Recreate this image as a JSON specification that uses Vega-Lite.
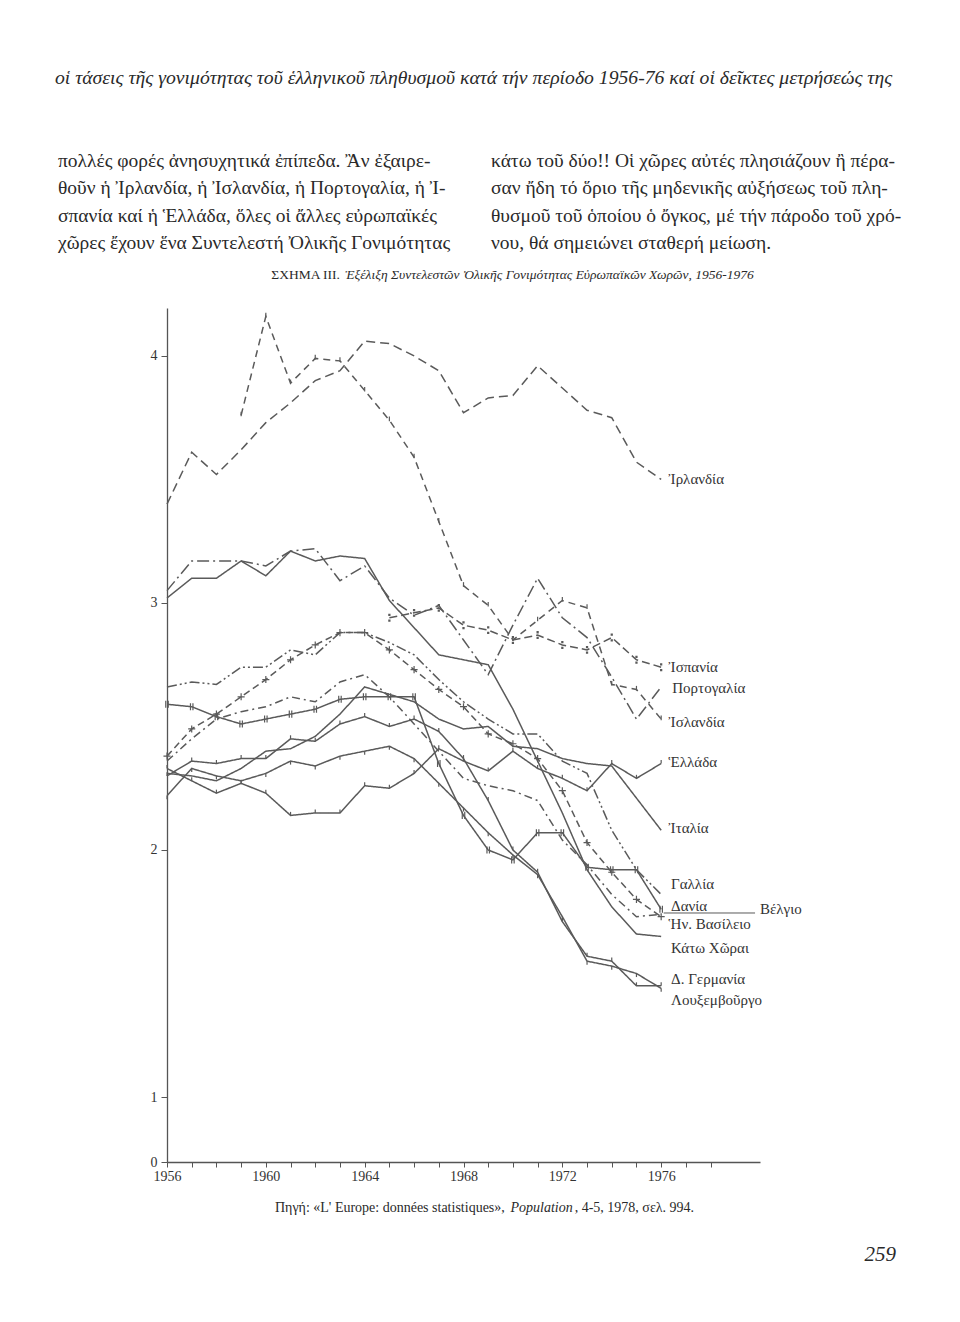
{
  "$schema": "https://vega.github.io/schema/vega-lite/v6.json",
  "width": 593,
  "height": 854,
  "autosize": {"type": "none"},
  "padding": {"left": 167, "top": 308, "right": 200, "bottom": 160},
  "background": "white",
  "config": {"view": {"stroke": null}, "font": "Liberation Serif, DejaVu Serif, serif"},
  "resolve": {"axis": {"x": "independent", "y": "independent"}},
  "datasets": {
    "tfr": [
      {"country":"Ireland","year":1956,"tfr":3.40},{"country":"Ireland","year":1957,"tfr":3.61},{"country":"Ireland","year":1958,"tfr":3.52},{"country":"Ireland","year":1959,"tfr":3.62},{"country":"Ireland","year":1960,"tfr":3.73},{"country":"Ireland","year":1961,"tfr":3.81},{"country":"Ireland","year":1962,"tfr":3.90},{"country":"Ireland","year":1963,"tfr":3.94},{"country":"Ireland","year":1964,"tfr":4.06},{"country":"Ireland","year":1965,"tfr":4.05},{"country":"Ireland","year":1966,"tfr":4.00},{"country":"Ireland","year":1967,"tfr":3.94},{"country":"Ireland","year":1968,"tfr":3.77},{"country":"Ireland","year":1969,"tfr":3.83},{"country":"Ireland","year":1970,"tfr":3.84},{"country":"Ireland","year":1971,"tfr":3.96},{"country":"Ireland","year":1972,"tfr":3.87},{"country":"Ireland","year":1973,"tfr":3.78},{"country":"Ireland","year":1974,"tfr":3.75},{"country":"Ireland","year":1975,"tfr":3.57},{"country":"Ireland","year":1976,"tfr":3.50},
      {"country":"Iceland","year":1959,"tfr":3.76},{"country":"Iceland","year":1960,"tfr":4.16},{"country":"Iceland","year":1961,"tfr":3.89},{"country":"Iceland","year":1962,"tfr":3.99},{"country":"Iceland","year":1963,"tfr":3.98},{"country":"Iceland","year":1964,"tfr":3.86},{"country":"Iceland","year":1965,"tfr":3.74},{"country":"Iceland","year":1966,"tfr":3.59},{"country":"Iceland","year":1967,"tfr":3.33},{"country":"Iceland","year":1968,"tfr":3.07},{"country":"Iceland","year":1969,"tfr":2.99},{"country":"Iceland","year":1970,"tfr":2.85},{"country":"Iceland","year":1971,"tfr":2.93},{"country":"Iceland","year":1972,"tfr":3.01},{"country":"Iceland","year":1973,"tfr":2.98},{"country":"Iceland","year":1974,"tfr":2.67},{"country":"Iceland","year":1975,"tfr":2.65},{"country":"Iceland","year":1976,"tfr":2.53},
      {"country":"Spain","year":1965,"tfr":2.94},{"country":"Spain","year":1966,"tfr":2.96},{"country":"Spain","year":1967,"tfr":2.98},{"country":"Spain","year":1968,"tfr":2.91},{"country":"Spain","year":1969,"tfr":2.89},{"country":"Spain","year":1970,"tfr":2.85},{"country":"Spain","year":1971,"tfr":2.87},{"country":"Spain","year":1972,"tfr":2.83},{"country":"Spain","year":1973,"tfr":2.81},{"country":"Spain","year":1974,"tfr":2.86},{"country":"Spain","year":1975,"tfr":2.77},{"country":"Spain","year":1976,"tfr":2.74},
      {"country":"Portugal","year":1956,"tfr":3.05},{"country":"Portugal","year":1957,"tfr":3.17},{"country":"Portugal","year":1958,"tfr":3.17},{"country":"Portugal","year":1959,"tfr":3.17},{"country":"Portugal","year":1960,"tfr":3.15},{"country":"Portugal","year":1961,"tfr":3.21},{"country":"Portugal","year":1962,"tfr":3.22},{"country":"Portugal","year":1963,"tfr":3.09},{"country":"Portugal","year":1964,"tfr":3.15},{"country":"Portugal","year":1965,"tfr":3.02},{"country":"Portugal","year":1966,"tfr":2.95},{"country":"Portugal","year":1967,"tfr":2.99},{"country":"Portugal","year":1968,"tfr":2.85},{"country":"Portugal","year":1969,"tfr":2.71},{"country":"Portugal","year":1970,"tfr":2.91},{"country":"Portugal","year":1971,"tfr":3.10},{"country":"Portugal","year":1972,"tfr":2.94},{"country":"Portugal","year":1973,"tfr":2.86},{"country":"Portugal","year":1974,"tfr":2.70},{"country":"Portugal","year":1975,"tfr":2.53},{"country":"Portugal","year":1976,"tfr":2.66},
      {"country":"Netherlands","year":1956,"tfr":3.02},{"country":"Netherlands","year":1957,"tfr":3.10},{"country":"Netherlands","year":1958,"tfr":3.10},{"country":"Netherlands","year":1959,"tfr":3.17},{"country":"Netherlands","year":1960,"tfr":3.11},{"country":"Netherlands","year":1961,"tfr":3.21},{"country":"Netherlands","year":1962,"tfr":3.17},{"country":"Netherlands","year":1963,"tfr":3.19},{"country":"Netherlands","year":1964,"tfr":3.18},{"country":"Netherlands","year":1965,"tfr":3.01},{"country":"Netherlands","year":1966,"tfr":2.90},{"country":"Netherlands","year":1967,"tfr":2.79},{"country":"Netherlands","year":1968,"tfr":2.77},{"country":"Netherlands","year":1969,"tfr":2.75},{"country":"Netherlands","year":1970,"tfr":2.57},{"country":"Netherlands","year":1971,"tfr":2.36},{"country":"Netherlands","year":1972,"tfr":2.15},{"country":"Netherlands","year":1973,"tfr":1.92},{"country":"Netherlands","year":1974,"tfr":1.77},{"country":"Netherlands","year":1975,"tfr":1.66},{"country":"Netherlands","year":1976,"tfr":1.65},
      {"country":"France","year":1956,"tfr":2.66},{"country":"France","year":1957,"tfr":2.68},{"country":"France","year":1958,"tfr":2.67},{"country":"France","year":1959,"tfr":2.74},{"country":"France","year":1960,"tfr":2.74},{"country":"France","year":1961,"tfr":2.81},{"country":"France","year":1962,"tfr":2.79},{"country":"France","year":1963,"tfr":2.88},{"country":"France","year":1964,"tfr":2.88},{"country":"France","year":1965,"tfr":2.84},{"country":"France","year":1966,"tfr":2.79},{"country":"France","year":1967,"tfr":2.69},{"country":"France","year":1968,"tfr":2.60},{"country":"France","year":1969,"tfr":2.53},{"country":"France","year":1970,"tfr":2.47},{"country":"France","year":1971,"tfr":2.47},{"country":"France","year":1972,"tfr":2.36},{"country":"France","year":1973,"tfr":2.31},{"country":"France","year":1974,"tfr":2.08},{"country":"France","year":1975,"tfr":1.92},{"country":"France","year":1976,"tfr":1.82},
      {"country":"UK","year":1956,"tfr":2.38},{"country":"UK","year":1957,"tfr":2.49},{"country":"UK","year":1958,"tfr":2.55},{"country":"UK","year":1959,"tfr":2.62},{"country":"UK","year":1960,"tfr":2.69},{"country":"UK","year":1961,"tfr":2.77},{"country":"UK","year":1962,"tfr":2.83},{"country":"UK","year":1963,"tfr":2.88},{"country":"UK","year":1964,"tfr":2.88},{"country":"UK","year":1965,"tfr":2.81},{"country":"UK","year":1966,"tfr":2.73},{"country":"UK","year":1967,"tfr":2.65},{"country":"UK","year":1968,"tfr":2.58},{"country":"UK","year":1969,"tfr":2.47},{"country":"UK","year":1970,"tfr":2.43},{"country":"UK","year":1971,"tfr":2.37},{"country":"UK","year":1972,"tfr":2.24},{"country":"UK","year":1973,"tfr":2.03},{"country":"UK","year":1974,"tfr":1.91},{"country":"UK","year":1975,"tfr":1.80},{"country":"UK","year":1976,"tfr":1.73},
      {"country":"Belgium","year":1956,"tfr":2.36},{"country":"Belgium","year":1957,"tfr":2.45},{"country":"Belgium","year":1958,"tfr":2.53},{"country":"Belgium","year":1959,"tfr":2.56},{"country":"Belgium","year":1960,"tfr":2.58},{"country":"Belgium","year":1961,"tfr":2.62},{"country":"Belgium","year":1962,"tfr":2.60},{"country":"Belgium","year":1963,"tfr":2.68},{"country":"Belgium","year":1964,"tfr":2.71},{"country":"Belgium","year":1965,"tfr":2.62},{"country":"Belgium","year":1966,"tfr":2.51},{"country":"Belgium","year":1967,"tfr":2.40},{"country":"Belgium","year":1968,"tfr":2.29},{"country":"Belgium","year":1969,"tfr":2.26},{"country":"Belgium","year":1970,"tfr":2.24},{"country":"Belgium","year":1971,"tfr":2.20},{"country":"Belgium","year":1972,"tfr":2.04},{"country":"Belgium","year":1973,"tfr":1.94},{"country":"Belgium","year":1974,"tfr":1.82},{"country":"Belgium","year":1975,"tfr":1.73},{"country":"Belgium","year":1976,"tfr":1.74},
      {"country":"Denmark","year":1956,"tfr":2.59},{"country":"Denmark","year":1957,"tfr":2.58},{"country":"Denmark","year":1958,"tfr":2.54},{"country":"Denmark","year":1959,"tfr":2.51},{"country":"Denmark","year":1960,"tfr":2.53},{"country":"Denmark","year":1961,"tfr":2.55},{"country":"Denmark","year":1962,"tfr":2.57},{"country":"Denmark","year":1963,"tfr":2.61},{"country":"Denmark","year":1964,"tfr":2.62},{"country":"Denmark","year":1965,"tfr":2.62},{"country":"Denmark","year":1966,"tfr":2.62},{"country":"Denmark","year":1967,"tfr":2.35},{"country":"Denmark","year":1968,"tfr":2.14},{"country":"Denmark","year":1969,"tfr":2.00},{"country":"Denmark","year":1970,"tfr":1.96},{"country":"Denmark","year":1971,"tfr":2.07},{"country":"Denmark","year":1972,"tfr":2.07},{"country":"Denmark","year":1973,"tfr":1.93},{"country":"Denmark","year":1974,"tfr":1.92},{"country":"Denmark","year":1975,"tfr":1.92},{"country":"Denmark","year":1976,"tfr":1.76},
      {"country":"Greece","year":1956,"tfr":2.33},{"country":"Greece","year":1957,"tfr":2.28},{"country":"Greece","year":1958,"tfr":2.23},{"country":"Greece","year":1959,"tfr":2.27},{"country":"Greece","year":1960,"tfr":2.23},{"country":"Greece","year":1961,"tfr":2.14},{"country":"Greece","year":1962,"tfr":2.15},{"country":"Greece","year":1963,"tfr":2.15},{"country":"Greece","year":1964,"tfr":2.26},{"country":"Greece","year":1965,"tfr":2.25},{"country":"Greece","year":1966,"tfr":2.31},{"country":"Greece","year":1967,"tfr":2.41},{"country":"Greece","year":1968,"tfr":2.36},{"country":"Greece","year":1969,"tfr":2.32},{"country":"Greece","year":1970,"tfr":2.40},{"country":"Greece","year":1971,"tfr":2.33},{"country":"Greece","year":1972,"tfr":2.29},{"country":"Greece","year":1973,"tfr":2.24},{"country":"Greece","year":1974,"tfr":2.35},{"country":"Greece","year":1975,"tfr":2.29},{"country":"Greece","year":1976,"tfr":2.35},
      {"country":"Italy","year":1956,"tfr":2.31},{"country":"Italy","year":1957,"tfr":2.30},{"country":"Italy","year":1958,"tfr":2.28},{"country":"Italy","year":1959,"tfr":2.33},{"country":"Italy","year":1960,"tfr":2.40},{"country":"Italy","year":1961,"tfr":2.41},{"country":"Italy","year":1962,"tfr":2.46},{"country":"Italy","year":1963,"tfr":2.55},{"country":"Italy","year":1964,"tfr":2.66},{"country":"Italy","year":1965,"tfr":2.63},{"country":"Italy","year":1966,"tfr":2.60},{"country":"Italy","year":1967,"tfr":2.53},{"country":"Italy","year":1968,"tfr":2.49},{"country":"Italy","year":1969,"tfr":2.50},{"country":"Italy","year":1970,"tfr":2.42},{"country":"Italy","year":1971,"tfr":2.41},{"country":"Italy","year":1972,"tfr":2.37},{"country":"Italy","year":1973,"tfr":2.35},{"country":"Italy","year":1974,"tfr":2.34},{"country":"Italy","year":1975,"tfr":2.21},{"country":"Italy","year":1976,"tfr":2.08},
      {"country":"WGermany","year":1956,"tfr":2.30},{"country":"WGermany","year":1957,"tfr":2.36},{"country":"WGermany","year":1958,"tfr":2.35},{"country":"WGermany","year":1959,"tfr":2.37},{"country":"WGermany","year":1960,"tfr":2.37},{"country":"WGermany","year":1961,"tfr":2.45},{"country":"WGermany","year":1962,"tfr":2.44},{"country":"WGermany","year":1963,"tfr":2.51},{"country":"WGermany","year":1964,"tfr":2.54},{"country":"WGermany","year":1965,"tfr":2.50},{"country":"WGermany","year":1966,"tfr":2.53},{"country":"WGermany","year":1967,"tfr":2.48},{"country":"WGermany","year":1968,"tfr":2.37},{"country":"WGermany","year":1969,"tfr":2.20},{"country":"WGermany","year":1970,"tfr":2.00},{"country":"WGermany","year":1971,"tfr":1.91},{"country":"WGermany","year":1972,"tfr":1.71},{"country":"WGermany","year":1973,"tfr":1.57},{"country":"WGermany","year":1974,"tfr":1.55},{"country":"WGermany","year":1975,"tfr":1.45},{"country":"WGermany","year":1976,"tfr":1.45},
      {"country":"Luxembourg","year":1956,"tfr":2.22},{"country":"Luxembourg","year":1957,"tfr":2.33},{"country":"Luxembourg","year":1958,"tfr":2.30},{"country":"Luxembourg","year":1959,"tfr":2.28},{"country":"Luxembourg","year":1960,"tfr":2.31},{"country":"Luxembourg","year":1961,"tfr":2.36},{"country":"Luxembourg","year":1962,"tfr":2.34},{"country":"Luxembourg","year":1963,"tfr":2.38},{"country":"Luxembourg","year":1964,"tfr":2.40},{"country":"Luxembourg","year":1965,"tfr":2.42},{"country":"Luxembourg","year":1966,"tfr":2.37},{"country":"Luxembourg","year":1967,"tfr":2.27},{"country":"Luxembourg","year":1968,"tfr":2.17},{"country":"Luxembourg","year":1969,"tfr":2.07},{"country":"Luxembourg","year":1970,"tfr":1.98},{"country":"Luxembourg","year":1971,"tfr":1.90},{"country":"Luxembourg","year":1972,"tfr":1.73},{"country":"Luxembourg","year":1973,"tfr":1.55},{"country":"Luxembourg","year":1974,"tfr":1.53},{"country":"Luxembourg","year":1975,"tfr":1.50},{"country":"Luxembourg","year":1976,"tfr":1.44}
    ],
    "labels": [
      {"country":"Ireland","label":"Ἰρλανδία","year":1976.3,"tfr":3.50},
      {"country":"Spain","label":"Ἰσπανία","year":1976.3,"tfr":2.742},
      {"country":"Portugal","label":"Πορτογαλία","year":1976.45,"tfr":2.655},
      {"country":"Iceland","label":"Ἰσλανδία","year":1976.3,"tfr":2.519},
      {"country":"Greece","label":"Ἑλλάδα","year":1976.3,"tfr":2.357},
      {"country":"Italy","label":"Ἰταλία","year":1976.3,"tfr":2.088},
      {"country":"France","label":"Γαλλία","year":1976.4,"tfr":1.862},
      {"country":"Denmark","label":"Δανία","year":1976.4,"tfr":1.775},
      {"country":"UK","label":"Ἡν. Βασίλειο","year":1976.3,"tfr":1.70},
      {"country":"Netherlands","label":"Κάτω Χῶραι","year":1976.4,"tfr":1.602},
      {"country":"WGermany","label":"Δ. Γερμανία","year":1976.4,"tfr":1.478},
      {"country":"Luxembourg","label":"Λουξεμβοῦργο","year":1976.4,"tfr":1.393},
      {"country":"Belgium","label":"Βέλγιο","year":1980.0,"tfr":1.762}
    ]
  },
  "layer": [
    {
      "data": {"name": "tfr"},
      "mark": {"type": "line", "strokeWidth": 1.5, "color": "#5a5a5a"},
      "encoding": {
        "x": {"field": "year", "type": "quantitative",
              "scale": {"domain": [1956, 1980], "nice": false, "zero": false},
              "axis": {"title": null, "grid": false,
                       "values": [1956,1957,1958,1959,1960,1961,1962,1963,1964,1965,1966,1967,1968,1969,1970,1971,1972,1973,1974,1975,1976,1977,1978],
                       "labelExpr": "(datum.value % 4 === 0 && datum.value <= 1976) ? '' + datum.value : ''",
                       "labelOverlap": false, "labelFlush": false,
                       "tickSize": 5, "labelPadding": 2, "domainColor": "#555", "tickColor": "#555", "domainWidth": 1.3,
                       "labelFont": "Liberation Serif", "labelFontSize": 14, "labelColor": "#333"}},
        "y": {"field": "tfr", "type": "quantitative",
              "scale": {"domain": [0.737, 4.194], "nice": false, "zero": false},
              "axis": {"title": null, "grid": false, "values": [0.737, 1, 2, 3, 4],
                       "labelExpr": "datum.value < 0.9 ? '0' : '' + datum.value",
                       "tickSize": 6, "labelPadding": 4, "domainColor": "#555", "tickColor": "#555", "domainWidth": 1.3,
                       "labelFont": "Liberation Serif", "labelFontSize": 14, "labelColor": "#333"}},
        "detail": {"field": "country"},
        "strokeDash": {"field": "country", "type": "nominal", "legend": null,
          "scale": {"domain": ["Ireland","Iceland","Spain","Portugal","France","Belgium","UK","Greece","Italy","Denmark","Netherlands","WGermany","Luxembourg"],
                    "range": [[9,5],[7,5],[8,4],[12,4,2,4],[10,3,2,3,2,3],[8,4,2,4],[7,4],[1,0],[1,0],[1,0],[1,0],[1,0],[1,0]]}}
      }
    },
    {
      "data": {"name": "tfr"},
      "transform": [{"filter": {"field": "country", "oneOf": ["Iceland","Spain","UK","Denmark","Greece","WGermany","Luxembourg"]}}],
      "mark": {"type": "point", "filled": false, "strokeWidth": 1.2, "color": "#5a5a5a", "size": 50, "opacity": 1},
      "encoding": {
        "x": {"field": "year", "type": "quantitative", "axis": null},
        "y": {"field": "tfr", "type": "quantitative", "axis": null},
        "shape": {"field": "country", "type": "nominal", "legend": null,
          "scale": {"domain": ["Iceland","Spain","UK","Denmark","Greece","WGermany","Luxembourg"],
                    "range": ["M0,-1L0,0.3",
                              "M-0.15,-0.95L0.15,-0.95L0.15,-0.65L-0.15,-0.65Z M-0.15,0.65L0.15,0.65L0.15,0.95L-0.15,0.95Z",
                              "M-1,0L1,0M0,-1L0,1",
                              "M-0.35,-1L-0.35,1M0.35,-1L0.35,1",
                              "M0,0L0,-1",
                              "M0,0L0,-1",
                              "M0,0L0,1"]}}
      }
    },
    {
      "data": {"name": "labels"},
      "mark": {"type": "text", "align": "left", "baseline": "middle", "fontSize": 15, "color": "#333", "font": "Liberation Serif, DejaVu Serif, serif"},
      "encoding": {
        "x": {"field": "year", "type": "quantitative", "axis": null},
        "y": {"field": "tfr", "type": "quantitative", "axis": null},
        "text": {"field": "label"}
      }
    },
    {
      "data": {"values": [{}]},
      "mark": {"type": "rule", "color": "#5a5a5a", "strokeWidth": 1},
      "encoding": {
        "x": {"datum": 1976.1, "type": "quantitative", "axis": null},
        "x2": {"datum": 1979.8},
        "y": {"datum": 1.745, "type": "quantitative", "axis": null}
      }
    },
    {
      "data": {"values": [{}]},
      "mark": {"type": "text", "align": "left", "baseline": "middle", "fontSize": 19.7, "fontStyle": "italic", "color": "#2a2a2a",
               "text": "οἱ τάσεις τῆς γονιμότητας τοῦ ἑλληνικοῦ πληθυσμοῦ κατά τήν περίοδο 1956-76 καί οἱ δεῖκτες μετρήσεώς της"},
      "encoding": {"x": {"datum": 1951.467, "type": "quantitative", "axis": null}, "y": {"datum": 5.125, "type": "quantitative", "axis": null}}
    },
    {
      "data": {"values": [{}]},
      "mark": {"type": "text", "align": "left", "baseline": "middle", "fontSize": 19.5, "lineHeight": 27.3, "color": "#2a2a2a",
               "text": ["πολλές φορές ἀνησυχητικά ἐπίπεδα. Ἂν ἐξαιρε-", "θοῦν ἡ Ἰρλανδία, ἡ Ἰσλανδία, ἡ Πορτογαλία, ἡ Ἰ-", "σπανία καί ἡ Ἑλλάδα, ὅλες οἱ ἄλλες εὐρωπαϊκές", "χῶρες ἔχουν ἕνα Συντελεστή Ὀλικῆς Γονιμότητας"]},
      "encoding": {"x": {"datum": 1951.588, "type": "quantitative", "axis": null}, "y": {"datum": 4.789, "type": "quantitative", "axis": null}}
    },
    {
      "data": {"values": [{}]},
      "mark": {"type": "text", "align": "left", "baseline": "middle", "fontSize": 19.5, "lineHeight": 27.3, "color": "#2a2a2a",
               "text": ["κάτω τοῦ δύο!! Οἱ χῶρες αὐτές πλησιάζουν ἢ πέρα-", "σαν ἤδη τό ὅριο τῆς μηδενικῆς αὐξήσεως τοῦ πλη-", "θυσμοῦ τοῦ ὁποίου ὁ ὄγκος, μέ τήν πάροδο τοῦ χρό-", "νου, θά σημειώνει σταθερή μείωση."]},
      "encoding": {"x": {"datum": 1969.113, "type": "quantitative", "axis": null}, "y": {"datum": 4.789, "type": "quantitative", "axis": null}}
    },
    {
      "data": {"values": [{}]},
      "mark": {"type": "text", "align": "right", "baseline": "middle", "fontSize": 13.5, "color": "#2a2a2a", "text": "ΣΧΗΜΑ III."},
      "encoding": {"x": {"datum": 1963.0, "type": "quantitative", "axis": null}, "y": {"datum": 4.328, "type": "quantitative", "axis": null}}
    },
    {
      "data": {"values": [{}]},
      "mark": {"type": "text", "align": "left", "baseline": "middle", "fontSize": 13.5, "fontStyle": "italic", "color": "#2a2a2a",
               "text": "Ἐξέλιξη Συντελεστῶν Ὀλικῆς Γονιμότητας Εὐρωπαϊκῶν Χωρῶν, 1956-1976"},
      "encoding": {"x": {"datum": 1963.2, "type": "quantitative", "axis": null}, "y": {"datum": 4.328, "type": "quantitative", "axis": null}}
    },
    {
      "data": {"values": [{}]},
      "mark": {"type": "text", "align": "left", "baseline": "middle", "fontSize": 14, "color": "#2a2a2a", "text": "Πηγή: «L' Europe: données statistiques»,"},
      "encoding": {"x": {"datum": 1960.37, "type": "quantitative", "axis": null}, "y": {"datum": 0.551, "type": "quantitative", "axis": null}}
    },
    {
      "data": {"values": [{}]},
      "mark": {"type": "text", "align": "left", "baseline": "middle", "fontSize": 14, "fontStyle": "italic", "color": "#2a2a2a", "text": "Population"},
      "encoding": {"x": {"datum": 1969.9, "type": "quantitative", "axis": null}, "y": {"datum": 0.551, "type": "quantitative", "axis": null}}
    },
    {
      "data": {"values": [{}]},
      "mark": {"type": "text", "align": "left", "baseline": "middle", "fontSize": 14, "color": "#2a2a2a", "text": ", 4-5, 1978, σελ. 994."},
      "encoding": {"x": {"datum": 1972.5, "type": "quantitative", "axis": null}, "y": {"datum": 0.551, "type": "quantitative", "axis": null}}
    },
    {
      "data": {"values": [{}]},
      "mark": {"type": "text", "align": "center", "baseline": "middle", "fontSize": 21, "fontStyle": "italic", "color": "#2a2a2a", "text": "259"},
      "encoding": {"x": {"datum": 1984.87, "type": "quantitative", "axis": null}, "y": {"datum": 0.36, "type": "quantitative", "axis": null}}
    }
  ]
}
